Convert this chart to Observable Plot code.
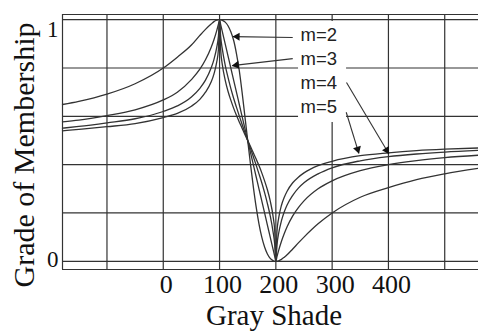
<!DOCTYPE html>
<html><head><meta charset="utf-8">
<script src="https://cdn.jsdelivr.net/npm/d3@7"></script>
<script src="https://cdn.jsdelivr.net/npm/@observablehq/plot@0.6"></script>
<style>html,body{margin:0;padding:0;background:#fff;} svg{display:block}</style>
</head><body><div id="chart"></div>
<script>
// ---- data ----
const grayShade = [-179,-150,-100,-50,0,25,50,65,75,85,90,95,98,100,102,105,110,115,120,125,130,135,140,145,150,155,160,165,170,175,180,185,190,195,198,200,202,205,210,215,220,230,240,250,275,300,350,400,450,500,560];
const m2 = [.649,.662,.692,.735,.80,.845,.895,.935,.96,.982,.992,.998,1,1,1,.997,.99,.975,.95,.915,.86,.79,.70,.60,.50,.401,.308,.225,.155,.10,.059,.03,.012,.003,0,0,0,.002,.008,.017,.027,.051,.076,.10,.155,.20,.265,.305,.338,.362,.385];
const m3 = [.577,.584,.603,.627,.668,.70,.752,.795,.834,.885,.917,.955,.981,1,.98,.95,.90,.85,.80,.75,.70,.65,.60,.55,.50,.45,.40,.35,.30,.25,.20,.15,.10,.05,.02,0,.019,.045,.083,.115,.143,.188,.222,.25,.30,.333,.375,.40,.417,.429,.439];
const m4 = [.551,.558,.573,.59,.62,.643,.68,.716,.75,.80,.835,.885,.932,1,.93,.877,.812,.761,.716,.675,.638,.602,.567,.533,.50,.467,.433,.398,.362,.325,.284,.239,.188,.123,.07,0,.068,.116,.168,.205,.233,.273,.303,.325,.362,.387,.416,.433,.444,.452,.459];
const m5 = [.54,.546,.557,.57,.595,.612,.642,.67,.70,.742,.775,.825,.878,1,.875,.813,.75,.704,.667,.634,.604,.577,.551,.525,.50,.475,.449,.423,.396,.366,.333,.296,.25,.187,.125,0,.123,.179,.232,.265,.29,.325,.348,.366,.396,.414,.437,.449,.458,.464,.469];
const seriesNames = ["m=2","m=3","m=4","m=5"];
const xTickValues = [0,100,200,300,400];
const xGridValues = [-100,0,100,200,300,400,500];
const yGridValues = [0,0.2,0.4,0.6,0.8,1];
// annotations (data units)
const labelX = 244;
const labelY = [0.935,0.835,0.736,0.637];
const arrowFrom = [[230,0.926],[230,0.839],[325.5,0.74],[325,0.617]];
const arrowTo = [[124,0.93],[122.5,0.81],[400.7,0.445],[347.5,0.447]];
const labelBox = [{x1:240.3,x2:325.6,y1:0.5745,y2:0.9925}];

// ---- layout ----
const W = 478, H = 331, mL = 62, mR = 0, mT = 14, mB = 62;
const xDomain = [-179, 560], yDomain = [-0.034, 1.0215];
const ink = "#333";
const serif = "Liberation Serif, Times New Roman, serif";
const sans = "Liberation Sans, Arial, sans-serif";

const table = [];
[m2, m3, m4, m5].forEach((vals, k) => grayShade.forEach((g, i) => table.push({shade: g, grade: vals[i], m: seriesNames[k]})));

const X = Plot.scale({x: {type: "linear", domain: xDomain, range: [mL, W - mR]}});
const Y = Plot.scale({y: {type: "linear", domain: yDomain, range: [H - mB, mT]}});
const arrows = arrowTo.map((t, i) => ({x1: arrowFrom[i][0], y1: arrowFrom[i][1], x2: t[0], y2: t[1]}));
const heads = arrows.map(a => {
  const px1 = X.apply(a.x1), py1 = Y.apply(a.y1), px2 = X.apply(a.x2), py2 = Y.apply(a.y2);
  const dx = px2 - px1, dy = py2 - py1, L = Math.hypot(dx, dy), back = 4.2;
  return {x: X.invert(px2 - dx / L * back), y: Y.invert(py2 - dy / L * back), r: Math.atan2(dx, -dy) * 180 / Math.PI};
});

const chart = Plot.plot({
  width: W, height: H,
  marginLeft: mL, marginRight: mR, marginTop: mT, marginBottom: mB,
  x: {domain: xDomain, axis: null},
  y: {domain: yDomain, axis: null},
  style: {background: "#fff", overflow: "visible"},
  marks: [
    Plot.ruleX(xGridValues, {stroke: ink, strokeWidth: 1.2}),
    Plot.ruleY(yGridValues, {stroke: ink, strokeWidth: 1.2}),
    Plot.ruleX([xDomain[0]], {stroke: ink, strokeWidth: 1.2}),
    Plot.ruleY(yDomain, {stroke: ink, strokeWidth: 1.2}),
    Plot.line(table, {x: "shade", y: "grade", z: "m", curve: "monotone-x", stroke: ink, strokeWidth: 1.3}),
    Plot.rect(labelBox, {x1: "x1", x2: "x2", y1: "y1", y2: "y2", fill: "#fff"}),
    Plot.link(arrows, {x1: "x1", y1: "y1", x2: "x2", y2: "y2", stroke: ink, strokeWidth: 1.1}),
    Plot.dot(heads, {x: "x", y: "y", rotate: "r", symbol: "triangle", r: 3, fill: "#111", stroke: null}),
    Plot.text(seriesNames, {x: () => labelX, y: (d, i) => labelY[i], text: d => d, textAnchor: "start", lineAnchor: "middle", fontSize: 18.5, fontFamily: sans, fill: "#222"}),
    Plot.text(xTickValues, {x: d => d, text: d => String(d), frameAnchor: "bottom", lineAnchor: "top", dy: 5, dx: 3, fontSize: 26, fontFamily: serif, fill: "#111"}),
    Plot.text([1], {y: d => d, text: d => String(d), frameAnchor: "left", textAnchor: "end", lineAnchor: "middle", dx: -4, dy: 10, fontSize: 23, fontFamily: serif, fill: "#111"}),
    Plot.text([0], {y: d => d, text: d => String(d), frameAnchor: "left", textAnchor: "end", lineAnchor: "middle", dx: -4, dy: -2, fontSize: 23, fontFamily: serif, fill: "#111"}),
    Plot.text(["Gray Shade"], {frameAnchor: "bottom", lineAnchor: "top", dx: 3.5, dy: 34.5, fontSize: 29, fontFamily: serif, fill: "#111"}),
    Plot.text(["Grade of Membership"], {frameAnchor: "left", rotate: -90, textAnchor: "middle", lineAnchor: "middle", dx: -38.6, dy: 13, fontSize: 30, fontFamily: serif, fill: "#111"})
  ]
});
document.getElementById("chart").appendChild(chart);
</script>
</body></html>
